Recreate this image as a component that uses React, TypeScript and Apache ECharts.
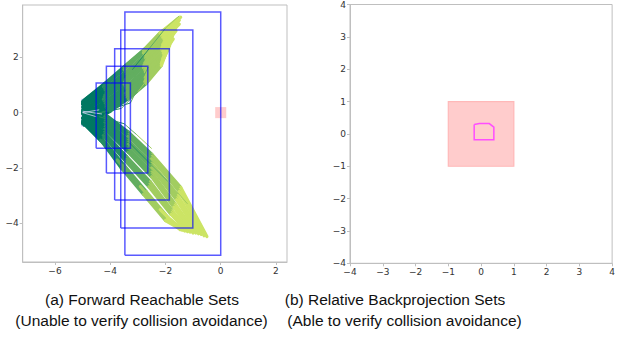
import React, { useEffect, useRef } from "react";
import * as echarts from "echarts";

// ---------- data ----------
const leftXTicks = [-6, -4, -2, 0, 2];
const leftYTicks = [-4, -2, 0, 2];

// colour of each time step (summer-like colormap)
const stepColors = ["#007862", "#268f62", "#62ae60", "#a2cd60", "#cce465"];

// sampled trajectories of the upper branch, points at t = 0..5
const upperTrajectories: number[][][] = [
  [[-4.95, 0.45], [-4.2, 1.05], [-3.45, 1.7], [-2.75, 2.3], [-2.1, 2.95], [-1.45, 3.45]],
  [[-5.0, 0.4], [-4.22, 1.0], [-3.5, 1.64], [-2.8, 2.24], [-2.2, 2.88], [-1.55, 3.4]],
  [[-5.0, 0.35], [-4.25, 0.94], [-3.5, 1.56], [-2.8, 2.16], [-2.15, 2.8], [-1.5, 3.34]],
  [[-4.95, 0.3], [-4.2, 0.86], [-3.45, 1.46], [-2.75, 2.07], [-2.1, 2.72], [-1.55, 3.25]],
  [[-4.97, 0.25], [-4.18, 0.8], [-3.42, 1.38], [-2.72, 1.98], [-2.05, 2.64], [-1.5, 3.2]],
  [[-5.0, 0.2], [-4.15, 0.73], [-3.4, 1.3], [-2.7, 1.9], [-2.05, 2.56], [-1.6, 3.12]],
  [[-4.95, 0.1], [-4.2, 0.63], [-3.45, 1.2], [-2.75, 1.8], [-2.1, 2.46], [-1.65, 3.02]],
  [[-5.0, 0.05], [-4.22, 0.56], [-3.48, 1.12], [-2.78, 1.72], [-2.12, 2.38], [-1.62, 2.95]],
  [[-5.0, 0.0], [-4.25, 0.48], [-3.5, 1.03], [-2.8, 1.63], [-2.15, 2.3], [-1.7, 2.85]],
  [[-4.95, -0.1], [-4.2, 0.4], [-3.45, 0.94], [-2.75, 1.55], [-2.1, 2.22], [-1.75, 2.75]],
  [[-4.97, -0.15], [-4.18, 0.33], [-3.43, 0.86], [-2.73, 1.47], [-2.08, 2.14], [-1.72, 2.66]],
  [[-5.0, -0.2], [-4.15, 0.27], [-3.4, 0.78], [-2.7, 1.38], [-2.05, 2.06], [-1.8, 2.55]],
  [[-4.95, -0.3], [-4.15, 0.2], [-3.45, 0.7], [-2.75, 1.28], [-2.1, 1.96], [-1.85, 2.42]],
  [[-5.0, -0.35], [-4.12, 0.14], [-3.42, 0.62], [-2.72, 1.2], [-2.12, 1.86], [-1.9, 2.3]],
  [[-5.0, -0.4], [-4.1, 0.1], [-3.4, 0.55], [-2.75, 1.12], [-2.15, 1.78], [-1.95, 2.2]],
  [[-4.95, -0.45], [-4.0, 0.05], [-3.35, 0.5], [-2.7, 1.05], [-2.15, 1.7], [-2.0, 2.1]],
];

// sampled trajectories of the lower branch, points at t = 0..5
const lowerTrajectories: number[][][] = [
  [[-4.95, 0.35], [-4.2, -0.05], [-3.35, -0.7], [-2.5, -1.5], [-1.45, -2.7], [-0.5, -4.48]],
  [[-5.0, 0.32], [-4.18, -0.1], [-3.33, -0.78], [-2.48, -1.58], [-1.48, -2.78], [-0.55, -4.42]],
  [[-5.0, 0.3], [-4.2, -0.15], [-3.35, -0.85], [-2.5, -1.67], [-1.5, -2.85], [-0.6, -4.45]],
  [[-4.95, 0.2], [-4.2, -0.25], [-3.35, -1.0], [-2.5, -1.83], [-1.55, -3.0], [-0.7, -4.4]],
  [[-4.97, 0.15], [-4.2, -0.31], [-3.36, -1.08], [-2.5, -1.92], [-1.58, -3.08], [-0.75, -4.36]],
  [[-5.0, 0.1], [-4.2, -0.37], [-3.35, -1.15], [-2.5, -2.0], [-1.6, -3.15], [-0.8, -4.38]],
  [[-4.95, 0.05], [-4.2, -0.48], [-3.35, -1.28], [-2.5, -2.15], [-1.65, -3.3], [-0.9, -4.35]],
  [[-5.0, 0.0], [-4.21, -0.54], [-3.37, -1.36], [-2.52, -2.24], [-1.68, -3.36], [-0.95, -4.3]],
  [[-5.0, -0.05], [-4.2, -0.6], [-3.35, -1.43], [-2.5, -2.32], [-1.7, -3.42], [-1.0, -4.35]],
  [[-4.95, -0.1], [-4.22, -0.72], [-3.4, -1.6], [-2.55, -2.5], [-1.75, -3.55], [-1.1, -4.32]],
  [[-4.97, -0.15], [-4.24, -0.78], [-3.42, -1.68], [-2.58, -2.6], [-1.78, -3.62], [-1.15, -4.25]],
  [[-5.0, -0.2], [-4.25, -0.83], [-3.45, -1.75], [-2.6, -2.68], [-1.8, -3.68], [-1.2, -4.3]],
  [[-4.95, -0.28], [-4.28, -0.95], [-3.5, -1.9], [-2.7, -2.85], [-1.9, -3.8], [-1.3, -4.28]],
  [[-5.0, -0.3], [-4.29, -1.0], [-3.55, -1.95], [-2.75, -2.9], [-1.95, -3.85], [-1.35, -4.2]],
  [[-5.0, -0.35], [-4.3, -1.05], [-3.6, -2.0], [-2.8, -2.95], [-2.0, -3.9], [-1.4, -4.25]],
  [[-4.95, -0.4], [-4.35, -1.0], [-3.75, -1.71], [-2.91, -2.67], [-2.19, -3.51], [-1.47, -4.23]],
];

// thin stray trajectories (segment colours start at step 1)
const strayTrajectories: number[][][] = [
  [[-4.35, 0.0], [-3.27, 0.35], [-2.62, 1.65], [-2.19, 2.15]],
  [[-4.6, -0.05], [-3.6, 0.15], [-3.0, 0.75], [-2.5, 1.4]],
  [[-4.4, -0.15], [-3.5, -0.4], [-3.04, -0.8], [-2.5, -1.3]],
  [[-3.3, -1.1], [-2.55, -1.85], [-1.9, -2.5], [-1.2, -3.3]],
  [[-3.2, 1.55], [-2.6, 2.3], [-2.0, 3.05], [-1.5, 3.5]],
];

// light lines inside the initial set
const initialLines: number[][][] = [
  [[-5.0, 0.0], [-4.4, 0.1]],
  [[-5.0, 0.0], [-4.5, -0.15]],
  [[-5.0, 0.05], [-4.3, -0.05]],
];

// reachable-set boxes [xmin, ymin, xmax, ymax]
const reachBoxes: number[][] = [
  [-4.51, -1.29, -3.27, 1.07],
  [-4.14, -2.18, -2.64, 1.68],
  [-3.84, -3.16, -1.86, 2.31],
  [-3.62, -4.17, -1.01, 2.99],
  [-3.47, -5.16, 0.0, 3.64],
];
const initialSet = [-5.05, -0.5, -4.9, 0.5];
const obstacleLeft = [-0.2, -0.2, 0.2, 0.2];
const obstacleRight = [-1, -1, 1, 1];
const backprojection: number[][] = [
  [-0.21, 0.29], [-0.05, 0.32], [0.25, 0.32], [0.39, 0.21],
  [0.39, -0.18], [-0.21, -0.18], [-0.21, 0.29],
];

const captions = [
  "(a) Forward Reachable Sets",
  "(Unable to verify collision avoidance)",
  "(b) Relative Backprojection Sets",
  "(Able to verify collision avoidance)",
];

// ---------- helpers ----------
const minus = (v: number) => (v < 0 ? "\u2212" + Math.abs(v) : String(v));
const boxPath = (b: number[]) => [
  [b[0], b[1]], [b[2], b[1]], [b[2], b[3]], [b[0], b[3]], [b[0], b[1]],
];

const axisGray = "#bfbfbf";
const labelStyle = {
  fontSize: 9,
  color: "#333",
  fontFamily: "DejaVu Sans",
};

function rectSeries(xi: number, rects: number[][], fill: string, stroke: string, lw: number) {
  return {
    type: "custom",
    xAxisIndex: xi,
    yAxisIndex: xi,
    silent: true,
    data: rects,
    renderItem: (_p: any, api: any) => {
      const a = api.coord([api.value(0), api.value(3)]);
      const b = api.coord([api.value(2), api.value(1)]);
      return {
        type: "rect",
        shape: { x: a[0], y: a[1], width: b[0] - a[0], height: b[1] - a[1] },
        style: { fill, stroke, lineWidth: lw },
      };
    },
  };
}

function caption(text: string, x: number, y: number) {
  return {
    type: "text",
    x,
    y,
    silent: true,
    style: {
      text,
      textAlign: "center",
      textVerticalAlign: "middle",
      fontSize: 15.5,
      fontFamily: "Liberation Sans",
      fill: "#111",
    },
  };
}

export default function App() {
  const ref = useRef<HTMLDivElement>(null);
  useEffect(() => {
    if (!ref.current) return;
    const chart = echarts.init(ref.current, null, { renderer: "svg" });

    const segs: any[] = [];
    const addTraj = (list: number[][][]) => {
      list.forEach((t) => {
        for (let i = 0; i < t.length - 1; i++) {
          segs.push({ coords: [t[i], t[i + 1]], lineStyle: { color: stepColors[i] } });
        }
      });
    };
    addTraj(upperTrajectories);
    addTraj(lowerTrajectories);

    const straySegs: any[] = [];
    strayTrajectories.forEach((t) => {
      for (let i = 0; i < t.length - 1; i++) {
        straySegs.push({ coords: [t[i], t[i + 1]], lineStyle: { color: stepColors[i + 1] } });
      }
    });

    const mkX = (gi: number, min: number, max: number, ticks?: number[]) => ({
      type: "value",
      gridIndex: gi,
      min,
      max,
      ...(ticks ? {} : { interval: 1 }),
      axisLine: { show: true, onZero: false, lineStyle: { color: axisGray, width: 1 } },
      axisTick: { show: true, length: 3, lineStyle: { color: axisGray }, ...(ticks ? { customValues: ticks } : {}) },
      axisLabel: { ...labelStyle, margin: 4, formatter: minus, ...(ticks ? { customValues: ticks } : {}) },
      splitLine: { show: false },
    });

    chart.setOption({
      animation: false,
      grid: [
        { left: 22.7, top: 5, width: 264.3, height: 257, show: true, borderColor: axisGray, borderWidth: 1, backgroundColor: "transparent" },
        { left: 350, top: 3.3, width: 268, height: 260, show: true, borderColor: axisGray, borderWidth: 1, backgroundColor: "transparent" },
      ],
      xAxis: [mkX(0, -7.17, 2.4, leftXTicks), mkX(1, -4, 4)],
      yAxis: [mkX(0, -5.4, 3.89, leftYTicks), mkX(1, -4, 4)],
      series: [
        rectSeries(0, [obstacleLeft], "#ffcccc", "none", 0),
        rectSeries(0, [initialSet], "rgba(110,110,255,0.35)", "none", 0),
        {
          type: "lines",
          coordinateSystem: "cartesian2d",
          xAxisIndex: 0,
          yAxisIndex: 0,
          silent: true,
          data: segs,
          lineStyle: { width: 3.2, opacity: 1, cap: "round" },
        },
        {
          type: "lines",
          coordinateSystem: "cartesian2d",
          xAxisIndex: 0,
          yAxisIndex: 0,
          silent: true,
          data: straySegs,
          lineStyle: { width: 1, opacity: 1 },
        },
        {
          type: "lines",
          coordinateSystem: "cartesian2d",
          xAxisIndex: 0,
          yAxisIndex: 0,
          silent: true,
          data: initialLines.map((c) => ({ coords: c })),
          lineStyle: { width: 0.8, color: "#d2d6f4", opacity: 1 },
        },
        {
          type: "lines",
          coordinateSystem: "cartesian2d",
          polyline: true,
          xAxisIndex: 0,
          yAxisIndex: 0,
          silent: true,
          data: reachBoxes.map((b) => ({ coords: boxPath(b) })),
          lineStyle: { width: 1.5, color: "rgba(0,0,255,0.65)", opacity: 1 },
        },
        rectSeries(1, [obstacleRight], "#ffcccc", "#ffb8b8", 1.2),
        {
          type: "lines",
          coordinateSystem: "cartesian2d",
          polyline: true,
          xAxisIndex: 1,
          yAxisIndex: 1,
          silent: true,
          data: [{ coords: backprojection }],
          lineStyle: { width: 1.5, color: "#ff4dff", opacity: 1 },
        },
      ],
      graphic: [
        caption(captions[0], 142, 299),
        caption(captions[1], 141.5, 320.5),
        caption(captions[2], 395, 299),
        caption(captions[3], 404.5, 320.5),
      ],
    });
    return () => chart.dispose();
  }, []);
  return (
    <div
      ref={ref}
      style={{ position: "fixed", left: 0, top: 0, width: 618, height: 337, background: "#fff" }}
    />
  );
}
